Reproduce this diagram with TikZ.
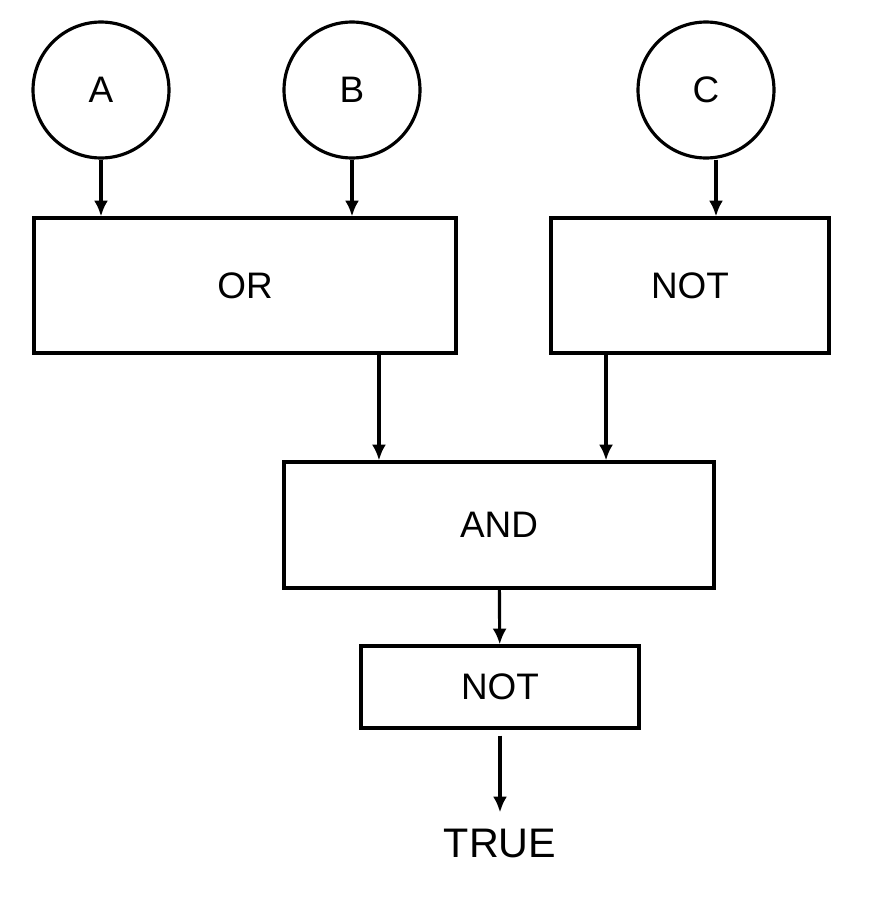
\documentclass[tikz,border=0pt]{standalone}
\usepackage{fontspec}
\setmainfont{Liberation Sans}
\usetikzlibrary{arrows.meta,positioning}

\begin{document}
\begin{tikzpicture}[
        x=0.02cm, y=-0.02cm,
        font=\fontsize{21}{25}\selectfont,
        input/.style={circle, draw, line width=1.8pt, minimum size=2.72cm, inner sep=0pt},
        gate/.style={rectangle, draw, line width=1.8pt, inner sep=0pt},
        arrow/.style={-{Latex[length=9pt,width=8pt]}, line width=1.8pt}
    ]
        \useasboundingbox (0,0) rectangle (874,900);

        \node[input] (a) at (101,90) {A};
        \node[input] (b) at (352,90) {B};
        \node[input] (c) at (706,90) {C};

        \node[gate, minimum width=8.44cm, minimum height=2.7cm] (or) at (245,285.5) {OR};
        \node[gate, minimum width=5.56cm, minimum height=2.7cm] (not1) at (690,285.5) {NOT};
        \node[gate, minimum width=8.6cm, minimum height=2.52cm] (and) at (499,525) {AND};
        \node[gate, minimum width=5.56cm, minimum height=1.64cm] (not2) at (500,687) {NOT};
        \node[font=\fontsize{23.5}{28}\selectfont] (out) at (500,843) {TRUE};

        \draw[arrow] (a) -- (a |- or.north);
        \draw[arrow] (b) -- (b |- or.north);
        \draw[arrow] ([xshift=0.2cm]c.south) -- ([xshift=0.2cm]c.south |- not1.north);
        \draw[arrow] ([xshift=2.68cm]or.south) -- ([xshift=2.68cm]or.south |- and.north);
        \draw[arrow] ([xshift=-1.68cm]not1.south) -- ([xshift=-1.68cm]not1.south |- and.north);
        \draw[arrow] (and) -- (not2);
        \draw[arrow, shorten >=0.2cm] ([yshift=-0.12cm]not2.south) -- (out);
    \end{tikzpicture}
\end{document}
